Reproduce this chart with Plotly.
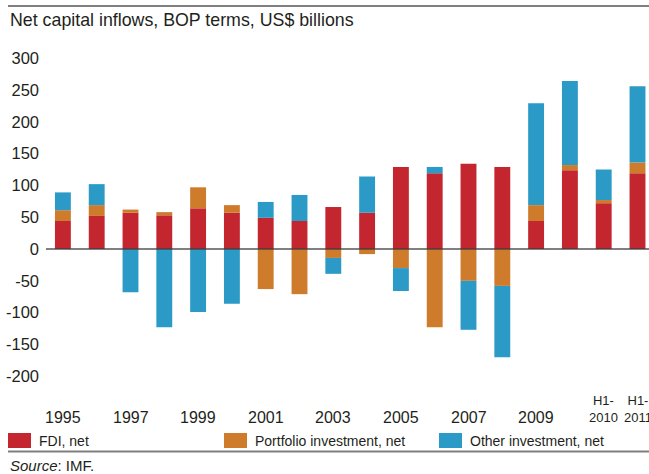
import plotly.graph_objects as go

# Net capital inflows by component, US$ billions
categories = ["1995", "1996", "1997", "1998", "1999", "2000", "2001", "2002",
              "2003", "2004", "2005", "2006", "2007", "2008", "2009", "2010",
              "H1-2010", "H1-2011"]
fdi = [44, 52, 57, 53, 64, 57, 49, 44, 66, 57, 129, 119, 134, 129, 44, 124, 72, 119]
portfolio = [17, 17, 5, 5, 33, 12, -63, -71, -14, -8, -30, -123, -50, -58, 25, 8, 5, 17]
other = [28, 33, -68, -123, -99, -86, 25, 41, -25, 57, -36, 10, -77, -112, 160, 132, 48, 120]

series_names = ["FDI, net", "Portfolio investment, net", "Other investment, net"]
series_colors = ["#C3262E", "#CF7B2C", "#2B9AC7"]

x_tick_labels = ["1995", "", "1997", "", "1999", "", "2001", "", "2003", "",
                 "2005", "", "2007", "", "2009", "", "H1-<br>2010", "H1-<br>2011"]
y_tick_vals = [-200, -150, -100, -50, 0, 50, 100, 150, 200, 250, 300]
y_tick_text = ["-200", "-150", "-100", "-50", "0", "50", "100", "150", "200", "250", "300"]

W, H = 649, 474
ML, MR, MT, MB = 46, 0, 52, 85
PW, PH = W - ML - MR, H - MT - MB

FONT = "Liberation Sans, Arial, Helvetica, sans-serif"
TEXT = "#231F20"


def px_x(px):
    return (px - ML) / PW


def px_y(py):
    return (H - MB - py) / PH


fig = go.Figure()
for name, vals, col in zip(series_names, [fdi, portfolio, other], series_colors):
    fig.add_trace(go.Bar(x=list(range(len(categories))), y=vals, name=name,
                         marker_color=col, marker_line_width=0, width=0.47,
                         showlegend=False, customdata=categories,
                         hovertemplate="%{customdata}: %{y}<extra>" + name + "</extra>"))

fig.update_layout(
    width=W, height=H,
    margin=dict(l=ML, r=MR, t=MT, b=MB),
    barmode="relative",
    paper_bgcolor="white", plot_bgcolor="white",
    xaxis=dict(range=[-0.5, 17.34], showticklabels=False,
               showgrid=False, zeroline=False, showline=False, fixedrange=True),
    yaxis=dict(range=[-220.1, 309.75], tickvals=y_tick_vals, ticktext=y_tick_text,
               showgrid=False, zeroline=False, showline=False, ticks="",
               ticklabelstandoff=6,
               tickfont=dict(family=FONT, size=16.5, color=TEXT)),
)

shapes = [
    # rule above the title
    dict(type="line", xref="paper", yref="paper", x0=px_x(8), x1=px_x(649),
         y0=px_y(6), y1=px_y(6), line=dict(color="#7F7F7F", width=2)),
    # rule below the legend
    dict(type="line", xref="paper", yref="paper", x0=px_x(8), x1=px_x(649),
         y0=px_y(451.5), y1=px_y(451.5), line=dict(color="#7F7F7F", width=2)),
    # zero line drawn over the bars
    dict(type="line", xref="paper", yref="y", x0=0, x1=1, y0=0, y1=0,
         layer="above", line=dict(color="rgba(60,60,60,0.65)", width=2)),
]

annotations = [
    dict(text="Net capital inflows, BOP terms, US$ billions", xref="paper", yref="paper",
         x=px_x(8), y=px_y(20.5), xanchor="left", yanchor="middle", showarrow=False,
         font=dict(family=FONT, size=17.8, color=TEXT)),
    dict(text="<i>Source</i>: IMF.", xref="paper", yref="paper",
         x=px_x(8), y=px_y(465), xanchor="left", yanchor="middle", showarrow=False,
         font=dict(family=FONT, size=15, color=TEXT)),
]

# category labels along the bottom, bottom-aligned so two-line labels stack upward;
# the half-year labels use a smaller size
for i, lab in enumerate(x_tick_labels):
    if lab:
        half_year = "<br>" in lab
        size = 13 if half_year else 16
        bottom = 426.5 if half_year else 427.7
        annotations.append(dict(text=lab, xref="x", yref="paper", x=i, y=px_y(bottom),
                                xanchor="center", yanchor="bottom", showarrow=False,
                                font=dict(family=FONT, size=size, color=TEXT)))

# legend keys
legend_x = [8, 224, 439]
for lx, name, col in zip(legend_x, series_names, series_colors):
    shapes.append(dict(type="rect", xref="paper", yref="paper",
                       x0=px_x(lx), x1=px_x(lx + 23), y0=px_y(448), y1=px_y(433),
                       fillcolor=col, line=dict(width=0)))
    annotations.append(dict(text=name, xref="paper", yref="paper",
                            x=px_x(lx + 29), y=px_y(441), xanchor="left", yanchor="middle",
                            showarrow=False, font=dict(family=FONT, size=14, color=TEXT)))

fig.update_layout(shapes=shapes, annotations=annotations)
fig.write_html("out.html")
